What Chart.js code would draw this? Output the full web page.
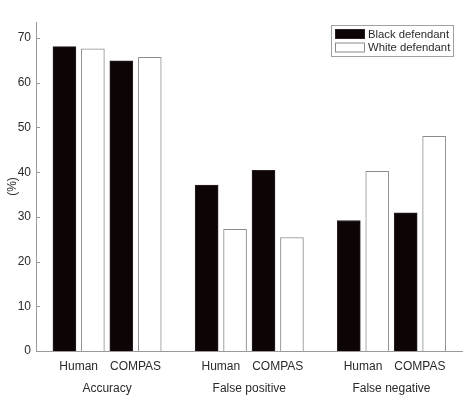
<!DOCTYPE html>
<html>
<head>
<meta charset="utf-8">
<script src="https://cdn.jsdelivr.net/npm/chart.js@4.4.1/dist/chart.umd.min.js"></script>
<style>
  html, body { margin: 0; padding: 0; background: #fff; }
  #wrap { width: 474px; height: 408px; position: relative; }
</style>
</head>
<body>
<div id="wrap"><canvas id="chart"></canvas></div>
<script>
// data
const groups = ['Accuracy', 'False positive', 'False negative'];
const raters = ['Human', 'COMPAS'];
const seriesNames = ['Black defendant', 'White defendant'];
// values per group, in order Human, COMPAS
const blackValues = [[68.1, 64.9], [37.1, 40.4], [29.2, 30.9]];
const whiteValues = [[67.6, 65.7], [27.2, 25.4], [40.2, 48.0]];
const yTicks = [0, 10, 20, 30, 40, 50, 60, 70];

// x position on a linear axis: groups 2.5 apart, raters 1 apart, series 0.5 apart
const pos = (g, r, k) => 2.5 * g + r + 0.5 * k;

const toPoints = (vals, k) => {
  const pts = [];
  vals.forEach((row, g) => row.forEach((v, r) => pts.push({ x: pos(g, r, k), y: v })));
  return pts;
};

const raterTicks = [];
groups.forEach((_, g) => raters.forEach((name, r) => raterTicks.push({ value: pos(g, r, 0.5), label: name })));
const groupTicks = groups.map((name, g) => ({ value: pos(g, 0.5, 0.5), label: name }));

const textColor = '#2a2a2a';
const axisColor = '#9a9a9a';
const font = { family: 'Liberation Sans, Arial, sans-serif', size: 12 };

// inward y ticks + boxed legend
const extras = {
  id: 'extras',
  afterDraw(chart) {
    const ctx = chart.ctx;
    const y = chart.scales.y;
    ctx.save();
    ctx.strokeStyle = axisColor;
    ctx.lineWidth = 1;
    yTicks.forEach(t => {
      const py = Math.round(y.getPixelForValue(t)) + 0.5;
      ctx.beginPath();
      ctx.moveTo(y.right, py);
      ctx.lineTo(y.right + 4, py);
      ctx.stroke();
    });

    // legend
    const lx = 331, ly = 25, lw = 122, lh = 31;
    ctx.fillStyle = '#fff';
    ctx.fillRect(lx, ly, lw, lh);
    ctx.strokeStyle = '#a0a0a0';
    ctx.strokeRect(lx + 0.5, ly + 0.5, lw, lh);
    ctx.font = '11.3px Liberation Sans, Arial, sans-serif';
    ctx.textBaseline = 'middle';
    chart.data.datasets.forEach((ds, i) => {
      const sy = ly + 4 + i * 13.5;
      ctx.fillStyle = ds.backgroundColor;
      ctx.fillRect(lx + 4, sy, 30, 10);
      ctx.strokeStyle = ds.borderColor;
      ctx.strokeRect(lx + 4.5, sy + 0.5, 29, 9);
      ctx.fillStyle = textColor;
      ctx.fillText(ds.label, lx + 37, sy + 5.5);
    });
    ctx.restore();
  }
};

new Chart(document.getElementById('chart'), {
  type: 'bar',
  data: {
    datasets: [
      {
        label: seriesNames[0],
        data: toPoints(blackValues, 0),
        backgroundColor: '#0d0505',
        borderColor: '#2a2020',
        borderWidth: 1,
      },
      {
        label: seriesNames[1],
        data: toPoints(whiteValues, 1),
        backgroundColor: '#ffffff',
        borderColor: '#8c8c8c',
        borderWidth: 1,
      },
    ],
  },
  options: {
    responsive: true,
    maintainAspectRatio: false,
    animation: false,
    grouped: false,
    barThickness: 23,
    layout: { padding: { top: 22, right: 12, left: 0, bottom: 0 } },
    plugins: { legend: { display: false }, tooltip: { enabled: false } },
    scales: {
      x: {
        type: 'linear',
        min: -0.5,
        max: 6.99,
        offset: false,
        border: { color: axisColor },
        grid: { display: false, drawTicks: false },
        afterBuildTicks: (s) => { s.ticks = raterTicks.map(t => ({ value: t.value })); },
        afterFit: (s) => { s.height = 26; },
        ticks: {
          autoSkip: false,
          maxRotation: 0,
          padding: 8,
          color: textColor,
          font: font,
          callback: (v) => (raterTicks.find(t => Math.abs(t.value - v) < 1e-6) || {}).label,
        },
      },
      x2: {
        type: 'linear',
        position: 'bottom',
        min: -0.5,
        max: 6.99,
        offset: false,
        border: { display: false },
        grid: { display: false, drawTicks: false },
        afterBuildTicks: (s) => { s.ticks = groupTicks.map(t => ({ value: t.value })); },
        afterFit: (s) => { s.height = 31; },
        ticks: {
          autoSkip: false,
          maxRotation: 0,
          padding: 4,
          color: textColor,
          font: font,
          callback: (v) => (groupTicks.find(t => Math.abs(t.value - v) < 1e-6) || {}).label,
        },
      },
      y: {
        min: 0,
        max: 73.6,
        border: { color: axisColor },
        grid: { display: false, drawTicks: false },
        afterBuildTicks: (s) => { s.ticks = yTicks.map(v => ({ value: v })); },
        afterFit: (s) => { s.width = 36; },
        ticks: { padding: 5, color: textColor, font: font },
        title: { display: true, text: '(%)', color: textColor, font: font, padding: { top: 5, bottom: 0 } },
      },
    },
  },
  plugins: [extras],
});
</script>
</body>
</html>
